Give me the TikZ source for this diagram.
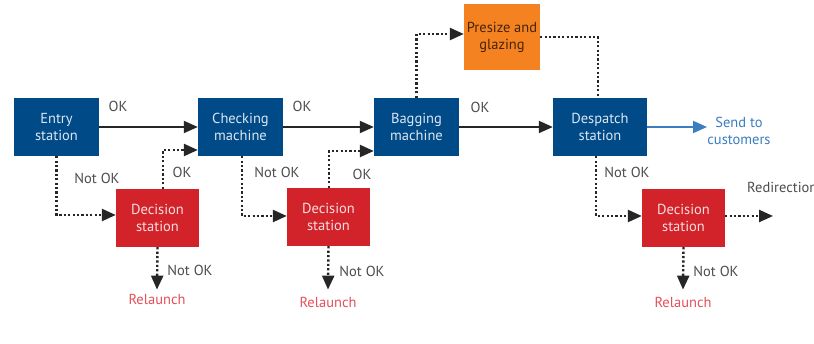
\documentclass[tikz,border=0pt]{standalone}
\usepackage{fontspec}
\setmainfont{PT Sans}
\usetikzlibrary{arrows.meta,calc}
\definecolor{boxblue}{HTML}{004A87}
\definecolor{boxred}{HTML}{D2232A}
\definecolor{boxorange}{HTML}{F58220}
\definecolor{labelgray}{HTML}{4D4D4D}
\definecolor{relaunchred}{HTML}{E5505A}
\definecolor{sendblue}{HTML}{3A7DC0}
\definecolor{boxtext}{HTML}{DCE6F2}
\tikzset{
  txt/.style={font=\fontsize{14.5}{17}\selectfont},
  station/.style={txt, fill=boxblue, text=boxtext, minimum width=85pt, minimum height=58pt,
    inner sep=0pt, align=center},
  decision/.style={txt, fill=boxred, text=white!85!boxred, minimum width=83pt, minimum height=58pt,
    inner sep=0pt, align=center},
  presize/.style={txt, fill=boxorange, text=black!72!boxorange, minimum width=76pt, minimum height=66pt,
    inner sep=0pt, align=center},
  lbl/.style={txt, text=labelgray, inner sep=0pt},
  relaunch/.style={txt, text=relaunchred, inner sep=0pt},
  tip/.style={-{Triangle[length=14pt,width=12pt]}},
  okflow/.style={tip, draw=black!85, line width=2pt},
  dotflow/.style={tip, draw=black!85, line width=2.4pt, dash pattern=on 2.2pt off 2.2pt},
  sendflow/.style={tip, draw=sendblue, line width=2pt}
}
\begin{document}
\begin{tikzpicture}[x=1pt,y=-1pt]
\useasboundingbox (0,0) rectangle (814,344);
\fill[white] (0,0) rectangle (814,344);

% main line of stations
\node[station] (entry) at (56.5,127) {Entry\\station};
\node[station] (check) at (240.5,127) {Checking\\machine};
\node[station] (bag) at (416.5,127) {Bagging\\machine};
\node[station, minimum width=94pt] (desp) at (600,127) {Despatch\\station};
\node[presize] (pre) at (502,37) {Presize and\\glazing};

% decision stations
\node[decision] (dec1) at (157.5,218) {Decision\\station};
\node[decision] (dec2) at (328.5,217) {Decision\\station};
\node[decision] (dec3) at (683.5,218) {Decision\\station};

% end points
\coordinate (sendtip) at (707,127);
\node[txt, text=sendblue, align=center, inner sep=0pt] (send) at (739,131) {Send to\\customers};
\coordinate (redir) at (773,216);
\node[lbl, anchor=west] (redirtxt) at (747,187) {Redirection};
\node[relaunch] (rel1) at (157,299) {Relaunch};
\node[relaunch] (rel2) at (328,302) {Relaunch};
\node[relaunch] (rel3) at (683,302) {Relaunch};

% OK flow
\draw[okflow] (entry.east) -- (check.west);
\draw[okflow] (check.east) -- (bag.west);
\draw[okflow] (bag.east) -- (desp.west);
\draw[sendflow] (desp.east) -- (sendtip);
\node[lbl] at (118,106) {OK};
\node[lbl] at (302,106) {OK};
\node[lbl] at (480,107) {OK};

% Not OK to decision stations
\draw[dotflow] (entry.south) |- ($(dec1.west)+(0,-3)$);
\draw[dotflow] ($(check.south)+(1.5,0)$) |- ($(dec2.west)+(0,-1)$);
\draw[dotflow] ($(desp.south)+(-4,0)$) |- ($(dec3.west)+(0,-2)$);
\node[lbl] at (97,178) {Not OK};
\node[lbl] at (277,172) {Not OK};
\node[lbl] at (627,172) {Not OK};

% recovered items back into the line
\draw[dotflow] ($(dec1.north)+(5.5,0)$) |- ($(check.west)+(0,23)$);
\draw[dotflow] ($(dec2.north)+(0.5,0)$) |- ($(bag.west)+(0,24)$);
\node[lbl] at (182,172) {OK};
\node[lbl] at (362,174) {OK};

% presize detour
\draw[dotflow] (bag.north) |- ($(pre.west)+(0,-3)$);
\draw[dotflow, -] (pre.east) -| ($(desp.north)+(-2,0)$);

% relaunch and redirection
\draw[dotflow] (dec1.south) -- ($(rel1.north)+(0,-4)$);
\draw[dotflow] (dec2.south) -- ($(rel2.north)+(0,-7)$);
\draw[dotflow] (dec3.south) -- ($(rel3.north)+(0,-7)$);
\draw[dotflow] ($(dec3.east)+(0,-2)$) -- (redir);
\node[lbl] at (190,270) {Not OK};
\node[lbl] at (362,271) {Not OK};
\node[lbl] at (716,271) {Not OK};
\end{tikzpicture}
\end{document}
